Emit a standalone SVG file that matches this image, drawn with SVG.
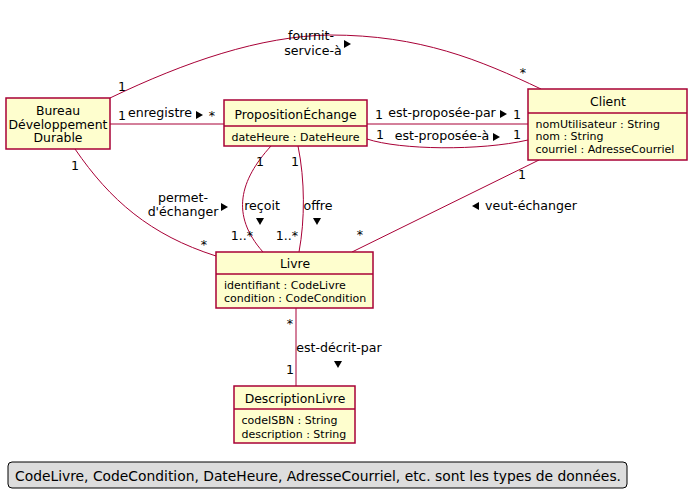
<svg xmlns="http://www.w3.org/2000/svg" width="698" height="499" viewBox="0 0 698 499">
<style>
.cls rect{fill:#FEFECE;stroke:#A80036;stroke-width:1.5}
.cls line{stroke:#A80036;stroke-width:1.5}
.name{font-family:"DejaVu Sans",sans-serif;font-size:12.4px;text-anchor:middle;fill:#000}
.attr{font-family:"DejaVu Sans",sans-serif;font-size:11px;fill:#000}
.edges path{fill:none;stroke:#A80036;stroke-width:1}
.lbl{font-family:"DejaVu Sans",sans-serif;font-size:12.6px;fill:#000}
.mid{text-anchor:middle}
.tri{fill:#000}
</style>
<rect width="698" height="499" fill="#FFFFFF"/>
<g id="connectors" class="edges">
  <path d="M110,98 C185,62 260,36 330,35 C420,35 480,60 541,89"/>
  <path d="M110,124 L224,124"/>
  <path d="M367,124 L528,124"/>
  <path d="M367,139 C400,150 480,151 528,140"/>
  <path d="M75,149 C110,200 150,235 216,256"/>
  <path d="M271,146 C240,180 230,215 263,252"/>
  <path d="M298,146 C305,180 305,220 299,252"/>
  <path d="M539,160 L352,252"/>
  <path d="M296,308 L296,386"/>
  <text class="lbl mid" x="311" y="40">fournit-</text>
  <text class="lbl mid" x="313" y="55">service-à</text>
  <polygon class="tri" points="344,40 351,44 344,48"/>
  <text class="lbl mid" x="122" y="91">1</text>
  <text class="lbl mid" x="523" y="77">*</text>
  <text class="lbl mid" x="122" y="120">1</text>
  <text class="lbl mid" x="160" y="117">enregistre</text>
  <polygon class="tri" points="196,111 203,115 196,119"/>
  <text class="lbl mid" x="212" y="120">*</text>
  <text class="lbl mid" x="379" y="119">1</text>
  <text class="lbl mid" x="442" y="117">est-proposée-par</text>
  <polygon class="tri" points="500,110 507,114 500,118"/>
  <text class="lbl mid" x="517" y="119">1</text>
  <text class="lbl mid" x="380" y="139">1</text>
  <text class="lbl mid" x="442" y="140">est-proposée-à</text>
  <polygon class="tri" points="493,133 500,137 493,141"/>
  <text class="lbl mid" x="517" y="139">1</text>
  <text class="lbl mid" x="75" y="170">1</text>
  <text class="lbl mid" x="183" y="202">permet-</text>
  <text class="lbl mid" x="183" y="216">d'échanger</text>
  <polygon class="tri" points="221,203 228,207 221,211"/>
  <text class="lbl mid" x="204" y="249">*</text>
  <text class="lbl mid" x="260" y="166">1</text>
  <text class="lbl mid" x="262" y="210">reçoit</text>
  <polygon class="tri" points="256,218 264,218 260,225"/>
  <text class="lbl mid" x="242" y="240">1..*</text>
  <text class="lbl mid" x="295" y="166">1</text>
  <text class="lbl mid" x="318" y="210">offre</text>
  <polygon class="tri" points="313,218 321,218 317,225"/>
  <text class="lbl mid" x="287" y="240">1..*</text>
  <text class="lbl mid" x="522" y="179">1</text>
  <polygon class="tri" points="479,202 472,206 479,210"/>
  <text class="lbl" x="485" y="210">veut-échanger</text>
  <text class="lbl mid" x="360" y="239">*</text>
  <text class="lbl mid" x="290" y="328">*</text>
  <text class="lbl mid" x="339" y="352">est-décrit-par</text>
  <polygon class="tri" points="334,361 342,361 338,368"/>
  <text class="lbl mid" x="290" y="374">1</text>
</g>
<g id="bureau" class="cls">
  <rect x="6" y="98" width="104" height="51"/>
  <text class="name" x="58" y="115">Bureau</text>
  <text class="name" x="58" y="128.5">Développement</text>
  <text class="name" x="58" y="142">Durable</text>
</g>
<g id="proposition" class="cls">
  <rect x="224" y="100" width="143" height="46"/>
  <line x1="224" y1="126" x2="367" y2="126"/>
  <text class="name" x="295.5" y="118.5">PropositionÉchange</text>
  <text class="attr" x="231.5" y="140.5">dateHeure : DateHeure</text>
</g>
<g id="client" class="cls">
  <rect x="528" y="89" width="159" height="71"/>
  <line x1="528" y1="113" x2="687" y2="113"/>
  <text class="name" x="608" y="105.5">Client</text>
  <text class="attr" x="535.5" y="127.5">nomUtilisateur : String</text>
  <text class="attr" x="535.5" y="139.5">nom : String</text>
  <text class="attr" x="535.5" y="153">courriel : AdresseCourriel</text>
</g>
<g id="livre" class="cls">
  <rect x="216" y="252" width="157" height="56"/>
  <line x1="216" y1="274" x2="373" y2="274"/>
  <text class="name" x="295" y="267.5">Livre</text>
  <text class="attr" x="224" y="289">identifiant : CodeLivre</text>
  <text class="attr" x="224" y="302">condition : CodeCondition</text>
</g>
<g id="description" class="cls">
  <rect x="234" y="386" width="121" height="57"/>
  <line x1="234" y1="409" x2="355" y2="409"/>
  <text class="name" x="295" y="402.5">DescriptionLivre</text>
  <text class="attr" x="241.5" y="424">codeISBN : String</text>
  <text class="attr" x="241.5" y="437.5">description : String</text>
</g>
<g id="legend">
  <rect x="8" y="462" width="619" height="26" rx="4" ry="4" fill="#DDDDDD" stroke="#000000" stroke-width="1"/>
  <text x="15" y="480.5" font-family="DejaVu Sans, sans-serif" font-size="14" textLength="606" lengthAdjust="spacingAndGlyphs" fill="#000">CodeLivre, CodeCondition, DateHeure, AdresseCourriel, etc. sont les types de données.</text>
</g>
</svg>
